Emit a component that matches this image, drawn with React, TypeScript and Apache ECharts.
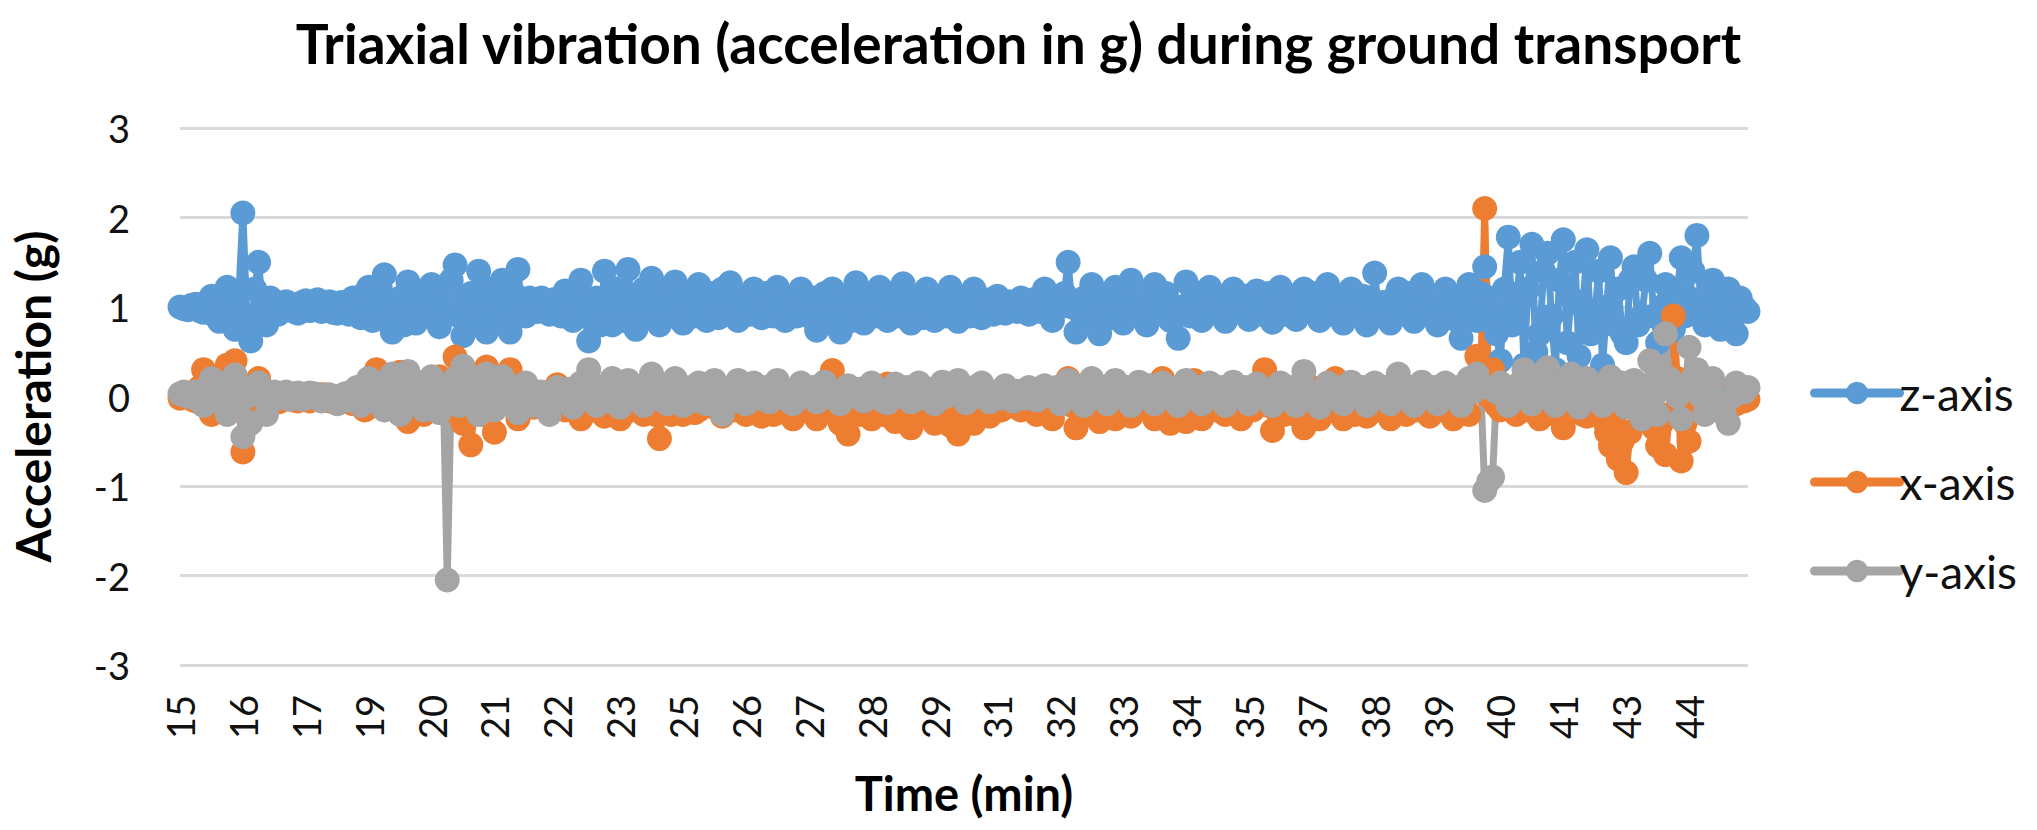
import React, { useEffect, useRef } from "react";
import * as echarts from "echarts";

const timeLabels = [15, 16, 17, 19, 20, 21, 22, 23, 25, 26, 27, 28, 29, 31, 32, 33, 34, 35, 37, 38, 39, 40, 41, 43, 44];
const pointsPerLabel = 16;

const zAxis = [
  1.0, 0.98, 0.97, 1.02, 1.03, 0.96, 0.94, 1.06, 1.12, 0.9, 0.84, 1.1, 1.22, 0.95, 0.75, 1.15, 2.05, 0.9, 0.62, 1.2,
  1.5, 1.0, 0.8, 1.1, 1.05, 0.92, 0.97, 1.06, 1.02, 0.95, 0.93, 1.05, 1.07, 0.96, 1.0, 1.08, 0.95, 1.02, 1.06, 0.94,
  0.93, 1.05, 1.03, 0.92, 1.1, 0.95, 0.88, 1.15, 1.22, 0.85, 1.0, 1.2, 1.36, 0.9, 0.72, 1.05, 1.1, 0.8, 1.28, 1.0,
  0.82, 1.15, 1.05, 0.9, 1.25, 1.0, 0.78, 1.2, 1.0, 1.3, 1.47, 0.9, 0.68, 1.1, 1.15, 0.85, 1.4, 1.0, 0.72, 1.2,
  1.0, 0.85, 1.3, 1.0, 0.72, 1.15, 1.42, 0.95, 0.9, 1.1, 1.05, 0.95, 1.1, 1.0, 0.92, 1.08, 1.0, 0.9, 1.18, 0.95,
  0.85, 1.15, 1.3, 0.9, 0.62, 1.0, 1.1, 0.8, 1.4, 1.05, 0.8, 1.2, 1.0, 0.85, 1.42, 1.0, 0.75, 1.1, 1.2, 0.9,
  1.32, 1.0, 0.8, 1.15, 1.05, 0.9, 1.28, 1.0, 0.82, 1.1, 1.15, 0.9, 1.25, 1.05, 0.85, 1.15, 1.0, 0.88, 1.2, 1.0,
  1.27, 1.0, 0.85, 1.12, 1.05, 0.92, 1.2, 1.0, 0.88, 1.15, 1.0, 0.9, 1.22, 1.05, 0.85, 1.0, 1.1, 0.9, 1.2, 1.0,
  0.9, 1.1, 0.74, 1.0, 1.15, 0.88, 1.2, 1.0, 0.72, 1.1, 1.0, 0.85, 1.27, 1.05, 0.82, 1.15, 1.05, 0.9, 1.22, 1.0,
  0.85, 1.15, 1.0, 0.9, 1.26, 1.05, 0.82, 1.0, 1.1, 0.88, 1.2, 1.0, 0.85, 1.1, 1.0, 0.9, 1.22, 1.05, 0.84, 1.1,
  1.05, 0.9, 1.2, 1.0, 0.88, 1.08, 1.0, 0.92, 1.12, 1.0, 0.93, 1.06, 1.04, 0.95, 1.1, 1.0, 0.92, 1.08, 1.05, 0.95,
  1.2, 1.0, 0.85, 1.1, 1.0, 1.15, 1.5, 1.0, 0.72, 0.95, 1.1, 0.9, 1.25, 1.0, 0.7, 1.1, 1.0, 0.88, 1.22, 1.0,
  0.82, 1.1, 1.3, 0.95, 1.05, 0.9, 0.8, 1.15, 1.25, 0.95, 1.0, 1.15, 0.85, 1.0, 0.65, 1.0, 1.28, 0.9, 1.0, 1.15,
  0.85, 1.05, 1.22, 0.95, 1.05, 0.9, 0.84, 1.1, 1.2, 0.95, 1.0, 1.12, 0.86, 1.0, 1.18, 0.92, 1.05, 1.15, 0.83, 1.0,
  1.22, 0.92, 1.0, 1.12, 0.86, 1.05, 1.2, 0.95, 1.05, 1.15, 0.85, 1.0, 1.25, 0.92, 1.0, 1.1, 0.82, 1.05, 1.2, 0.95,
  1.0, 1.12, 0.8, 1.05, 1.38, 0.95, 1.05, 0.9, 0.82, 1.1, 1.2, 0.92, 1.0, 1.15, 0.84, 1.0, 1.25, 0.95, 1.05, 0.9,
  0.8, 1.05, 1.2, 0.9, 1.0, 0.85, 0.65, 1.1, 1.25, 0.95, 0.85, 1.15, 1.45, 1.1, 0.95, 0.7, 0.4, 1.2, 1.78, 0.8,
  1.0, 1.5, 0.35, 1.2, 1.7, 0.5, 0.7, 1.4, 1.6, 0.9, 0.3, 1.3, 1.75, 0.6, 1.1, 1.5, 0.45, 1.0, 1.64, 0.7,
  0.9, 1.4, 0.35, 1.0, 1.55, 0.8, 1.2, 0.7, 0.6, 1.3, 1.45, 0.8, 0.9, 1.3, 1.6, 0.9, 0.6, 1.0, 1.25, 1.1,
  0.75, 1.2, 1.55, 0.9, 1.1, 1.4, 1.8, 1.0, 0.8, 1.15, 1.3, 0.9, 0.75, 1.1, 1.2, 0.85, 0.7, 1.1, 1.0, 0.95,
];

const xAxisVals = [
  -0.02, 0.0, 0.02, -0.03, -0.05, 0.1, 0.3, -0.05, -0.2, 0.1, 0.05, -0.15, 0.35, 0.0, 0.4, -0.1, -0.62, 0.0, -0.2, 0.05,
  0.2, -0.1, -0.05, 0.02, 0.0, -0.06, -0.04, 0.01, 0.02, -0.04, -0.05, 0.0, 0.0, -0.05, -0.03, 0.02, 0.02, -0.04, -0.05, 0.0,
  0.0, -0.06, -0.04, 0.02, -0.08, 0.05, 0.1, -0.15, -0.12, 0.15, 0.3, -0.05, 0.0, 0.1, -0.1, 0.05, 0.27, -0.1, -0.28, 0.05,
  0.1, -0.1, -0.2, 0.05, 0.0, -0.1, 0.22, 0.0, -0.15, 0.1, 0.44, -0.1, -0.3, 0.05, -0.54, -0.1, 0.15, -0.2, 0.33, 0.0,
  -0.4, -0.1, 0.0, 0.15, 0.3, -0.05, -0.25, 0.0, 0.1, -0.05, -0.12, 0.02, 0.0, -0.1, -0.08, 0.05, 0.13, -0.05, -0.15, 0.0,
  0.05, -0.1, -0.25, 0.0, -0.05, -0.15, 0.1, -0.05, -0.22, -0.1, 0.0, -0.15, -0.25, -0.05, 0.05, -0.15, -0.1, 0.0, -0.2, -0.05,
  0.0, -0.2, -0.47, -0.15, -0.1, -0.2, 0.05, -0.1, -0.2, 0.0, -0.05, -0.18, -0.15, -0.02, 0.05, -0.1, -0.12, 0.0, -0.22, -0.08,
  0.02, -0.15, -0.1, 0.0, -0.2, -0.08, 0.05, -0.12, -0.22, 0.0, -0.05, -0.2, -0.18, 0.0, 0.05, -0.15, -0.25, -0.05, -0.1, 0.0,
  0.05, -0.1, -0.25, 0.0, -0.1, 0.1, 0.29, -0.1, -0.3, -0.1, -0.42, -0.15, 0.05, -0.2, -0.15, 0.0, -0.25, -0.1, 0.0, -0.2,
  0.14, -0.1, -0.28, 0.0, -0.1, -0.2, -0.35, -0.05, 0.05, -0.2, -0.15, 0.0, -0.3, -0.1, 0.0, -0.2, -0.32, -0.1, -0.42, -0.05,
  0.02, -0.15, -0.3, -0.05, -0.1, 0.0, -0.22, -0.08, 0.03, -0.15, -0.1, 0.02, 0.0, -0.12, -0.15, 0.0, 0.05, -0.1, -0.2, 0.0,
  0.1, -0.1, -0.25, 0.0, -0.05, 0.1, 0.2, -0.1, -0.35, -0.05, 0.05, -0.2, -0.15, 0.0, -0.28, -0.05, 0.08, -0.1, -0.25, 0.0,
  0.1, -0.1, -0.22, 0.0, -0.1, 0.05, 0.12, -0.1, -0.25, 0.0, 0.2, -0.1, -0.3, -0.1, -0.05, -0.18, -0.28, 0.0, 0.18, -0.1,
  -0.25, -0.05, 0.05, -0.15, -0.1, 0.0, -0.2, -0.05, 0.08, -0.1, -0.25, 0.0, -0.05, -0.15, 0.1, 0.0, 0.3, -0.1, -0.38, -0.05,
  -0.1, -0.2, 0.05, -0.1, -0.2, 0.0, -0.35, -0.1, 0.1, -0.15, -0.25, 0.0, -0.05, -0.15, 0.2, -0.05, -0.25, 0.0, -0.1, -0.2,
  0.05, -0.1, -0.22, 0.0, -0.05, -0.15, 0.1, -0.1, -0.25, 0.0, 0.2, -0.05, -0.2, 0.0, -0.05, -0.15, 0.12, -0.05, -0.22, 0.0,
  -0.05, -0.15, 0.05, -0.1, -0.25, 0.0, 0.1, -0.1, -0.2, 0.2, 0.45, 0.2, 2.1, 0.0, 0.3, -0.1, -0.15, 0.0, 0.05, -0.1,
  -0.2, 0.0, -0.05, -0.15, 0.1, -0.05, -0.25, 0.0, 0.05, -0.15, -0.2, 0.0, -0.35, -0.1, 0.08, -0.05, -0.1, -0.2, -0.22, 0.0,
  0.1, -0.1, -0.25, -0.4, -0.55, -0.3, -0.7, -0.5, -0.85, -0.4, -0.1, 0.0, 0.05, -0.1, -0.2, -0.35, -0.55, -0.3, -0.65, -0.2,
  0.9, 0.2, -0.72, -0.3, -0.5, -0.1, 0.05, -0.1, -0.15, 0.0, 0.1, -0.05, -0.1, 0.0, 0.05, -0.1, -0.08, 0.0, -0.05, -0.03,
];

const yAxisVals = [
  0.03, 0.05, 0.0, 0.02, 0.05, -0.05, -0.1, 0.1, 0.2, -0.05, 0.0, 0.15, -0.2, 0.05, 0.24, -0.1, -0.45, 0.0, -0.3, 0.1,
  0.15, 0.0, -0.2, 0.0, 0.05, -0.02, 0.02, 0.05, -0.03, 0.0, 0.04, -0.03, -0.02, 0.04, 0.03, -0.02, -0.05, 0.02, 0.02, -0.04,
  -0.08, 0.0, 0.03, -0.04, 0.06, 0.1, -0.1, 0.05, 0.2, -0.05, 0.0, 0.15, -0.15, 0.05, 0.25, 0.0, -0.2, 0.1, 0.28, -0.05,
  0.0, 0.15, -0.15, 0.05, 0.22, 0.0, -0.18, 0.1, -2.05, 0.05, 0.2, -0.1, 0.34, 0.1, 0.0, 0.2, -0.2, 0.05, 0.25, -0.05,
  -0.15, 0.05, 0.22, -0.05, 0.0, 0.1, -0.18, 0.0, 0.15, -0.05, -0.1, 0.05, 0.05, -0.08, -0.2, 0.0, 0.1, -0.05, 0.0, 0.08,
  -0.12, 0.0, 0.15, 0.05, 0.3, 0.05, -0.1, 0.1, 0.05, -0.05, 0.2, 0.0, -0.12, 0.05, 0.18, -0.02, 0.0, 0.1, -0.1, 0.05,
  0.25, 0.0, 0.05, -0.05, -0.08, 0.1, 0.2, 0.0, -0.1, 0.05, 0.1, -0.05, 0.15, 0.05, -0.08, 0.1, 0.18, 0.0, -0.2, 0.05,
  0.05, -0.05, 0.18, 0.02, -0.08, 0.05, 0.15, -0.02, 0.0, 0.1, -0.06, 0.05, 0.18, 0.0, 0.05, -0.05, -0.08, 0.08, 0.15, 0.0,
  0.0, 0.1, -0.06, 0.05, 0.16, 0.0, 0.05, -0.04, -0.08, 0.05, 0.12, 0.02, 0.0, 0.08, -0.05, 0.05, 0.15, 0.0, 0.02, -0.05,
  -0.07, 0.05, 0.14, 0.0, 0.05, 0.1, -0.06, 0.05, 0.15, -0.02, 0.0, 0.08, -0.08, 0.05, 0.16, 0.0, 0.02, 0.1, 0.18, 0.0,
  -0.07, 0.03, 0.1, 0.0, 0.15, 0.05, -0.06, 0.04, 0.05, -0.02, 0.12, 0.0, -0.05, 0.06, 0.03, -0.02, 0.1, 0.02, -0.04, 0.05,
  0.12, 0.05, 0.0, 0.1, -0.08, 0.05, 0.18, 0.0, 0.05, 0.1, -0.1, 0.05, 0.2, 0.05, 0.0, 0.1, -0.08, 0.05, 0.18, 0.0,
  0.02, 0.1, -0.1, 0.05, 0.16, 0.0, 0.05, 0.12, -0.08, 0.05, 0.15, 0.0, 0.0, 0.08, -0.1, 0.05, 0.18, 0.0, 0.02, 0.1,
  -0.08, 0.05, 0.15, 0.0, 0.05, 0.1, -0.1, 0.05, 0.16, 0.0, 0.0, 0.1, -0.08, 0.05, 0.14, 0.0, 0.02, 0.08, -0.1, 0.05,
  0.15, 0.05, 0.0, 0.1, -0.1, 0.1, 0.28, 0.05, 0.05, -0.05, -0.12, 0.05, 0.15, 0.0, 0.0, 0.1, -0.08, 0.05, 0.16, 0.0,
  0.02, 0.1, -0.1, 0.05, 0.15, 0.0, 0.0, 0.1, -0.08, 0.1, 0.25, 0.0, 0.05, 0.1, -0.1, 0.05, 0.16, 0.0, 0.0, 0.1,
  -0.08, 0.05, 0.15, 0.0, 0.02, 0.1, -0.1, 0.05, 0.2, 0.05, 0.25, 0.1, -1.05, -0.95, -0.9, 0.05, 0.15, 0.0, -0.1, 0.1,
  0.05, 0.15, 0.3, 0.05, -0.08, 0.15, 0.1, 0.0, 0.32, 0.1, -0.1, 0.05, 0.05, 0.15, 0.25, 0.0, -0.12, 0.1, 0.2, 0.0,
  0.0, 0.1, -0.1, 0.05, 0.22, 0.0, 0.05, 0.15, -0.12, 0.05, 0.18, -0.05, -0.25, 0.1, 0.4, 0.0, -0.2, 0.2, 0.7, 0.2,
  0.1, 0.0, -0.25, 0.1, 0.55, 0.2, 0.3, 0.0, -0.2, 0.05, 0.2, 0.0, -0.1, -0.2, -0.3, 0.0, 0.15, 0.05, 0.05, 0.1,
];

const categories = timeLabels.flatMap((t) => Array(pointsPerLabel).fill(String(t)));

const FONT = "Lato, 'Open Sans', sans-serif";

export default function App() {
  const ref = useRef<HTMLDivElement>(null);
  useEffect(() => {
    if (!ref.current) return;
    const chart = echarts.init(ref.current, undefined, { renderer: "svg" });
    const mk = (name: string, data: number[], color: string) => ({
      name,
      type: "line",
      data,
      symbol: "circle",
      symbolSize: 25,
      showSymbol: true,
      showAllSymbol: true,
      itemStyle: { color },
      lineStyle: { color, width: 7, cap: "round", join: "round" },
    });
    chart.setOption({
      animation: false,
      backgroundColor: "#ffffff",
      textStyle: { fontFamily: FONT },
      title: {
        text: "Triaxial vibration (acceleration in g) during ground transport",
        left: "center",
        top: 10,
        textStyle: { fontFamily: FONT, fontSize: 55, fontWeight: "bold", color: "#000" },
      },
      legend: {
        orient: "vertical",
        left: 1805,
        top: 365,
        itemWidth: 85,
        itemHeight: 28,
        itemGap: 43,
        lineStyle: { width: 9 },
        data: ["z-axis", "x-axis", "y-axis"],
        textStyle: { fontFamily: FONT, fontSize: 46, color: "#111", lineHeight: 46, padding: [0, 0, 0, -5] },
      },
      grid: { left: 170, right: 289, top: 128, bottom: 165, containLabel: false },
      xAxis: {
        type: "category",
        data: categories,
        boundaryGap: false,
        name: "Time (min)",
        nameLocation: "middle",
        nameGap: 104,
        nameTextStyle: { fontFamily: FONT, fontSize: 47, fontWeight: "bold", color: "#000" },
        axisLine: { show: false },
        axisTick: { show: false },
        axisLabel: { interval: pointsPerLabel - 1, rotate: 90, margin: 30, fontSize: 38, color: "#111", fontFamily: FONT },
        splitLine: { show: false },
      },
      yAxis: {
        type: "value",
        min: -3,
        max: 3,
        interval: 1,
        name: "Acceleration (g)",
        nameLocation: "middle",
        nameGap: 124,
        nameRotate: 90,
        nameTextStyle: { fontFamily: FONT, fontSize: 48, fontWeight: "bold", color: "#000" },
        axisLine: { show: false },
        axisTick: { show: false },
        axisLabel: { margin: 50, fontSize: 38, color: "#111", fontFamily: FONT },
        splitLine: { lineStyle: { color: "#d9d9d9", width: 3 } },
      },
      series: [
        mk("z-axis", zAxis, "#5B9BD5"),
        mk("x-axis", xAxisVals, "#ED7D31"),
        mk("y-axis", yAxisVals, "#A5A5A5"),
      ],
    });
    return () => chart.dispose();
  }, []);
  return <div ref={ref} style={{ position: "fixed", left: 0, top: 0, width: "100vw", height: "100vh", background: "#fff" }} />;
}
